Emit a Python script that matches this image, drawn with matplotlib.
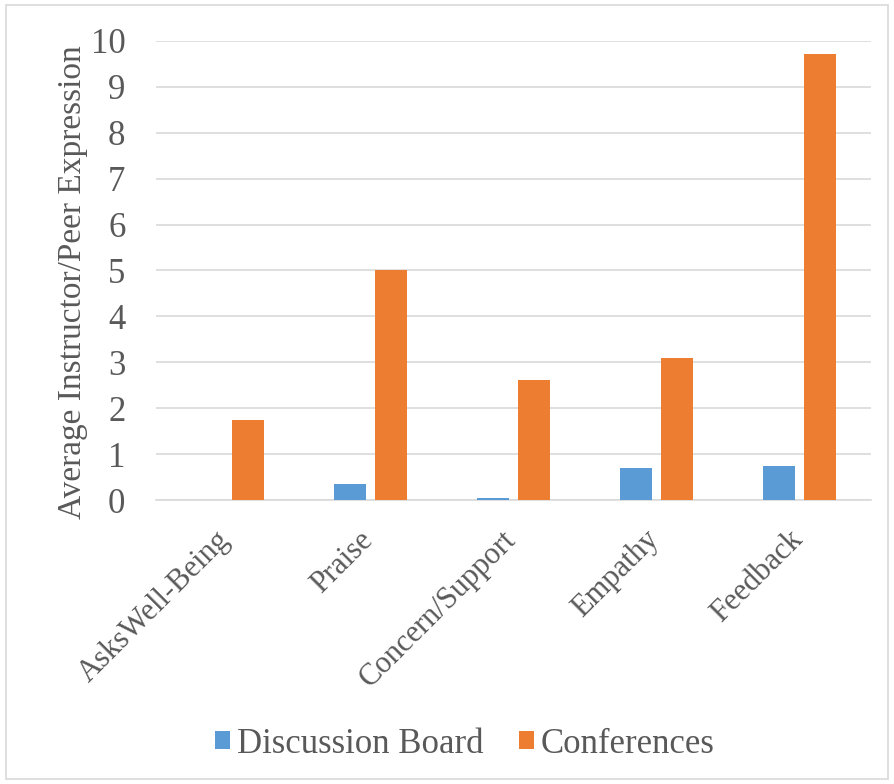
import matplotlib
matplotlib.use("Agg")
import matplotlib.pyplot as plt
import matplotlib.transforms as mtransforms
import numpy as np
from matplotlib.patches import Rectangle

categories = ["AsksWell-Being", "Praise", "Concern/Support", "Empathy", "Feedback"]
discussion_board = [0.0, 0.36, 0.04, 0.71, 0.74]
conferences = [1.75, 5.0, 2.62, 3.1, 9.72]
series_names = ["Discussion Board", "Conferences"]
yticks = list(range(0, 11))

plt.rcParams['font.family'] = ['Liberation Serif', 'DejaVu Serif']
txt = '#595959'

fig = plt.figure(figsize=(8.94, 7.84), dpi=100)
ax = fig.add_axes([0.1745, 0.362, 0.80, 0.586])

x = np.arange(len(categories))
w = 0.224
off = 0.142
ax.bar(x - off, discussion_board, w, color='#5B9BD5', label=series_names[0], zorder=3)
ax.bar(x + off, conferences, w, color='#ED7D31', label=series_names[1], zorder=3)

ax.set_xlim(-0.5, len(categories) - 0.5)
ax.set_ylim(0, 10)
ax.set_yticks(yticks)
ax.yaxis.grid(True, color='#D9D9D9', linewidth=1.2, zorder=0)
ax.set_axisbelow(True)
for s in ['top', 'right', 'left']:
    ax.spines[s].set_visible(False)
ax.spines['bottom'].set_color('#D9D9D9')
ax.spines['bottom'].set_linewidth(1.2)
ax.tick_params(axis='y', length=0, labelsize=25, colors=txt, pad=22)
ax.tick_params(axis='x', length=0, labelsize=22, colors=txt, pad=18)
ax.set_xticks(x)
ax.set_xticklabels(categories, rotation=45, ha='right', va='top', rotation_mode='anchor')
shift = mtransforms.ScaledTranslation(-12 / 100, 0 / 100, fig.dpi_scale_trans)
for lbl in ax.get_xticklabels():
    lbl.set_transform(lbl.get_transform() + shift)
ax.set_ylabel("Average Instructor/Peer Expression", fontsize=24, color=txt)
ax.yaxis.set_label_coords(-0.095, 0.475)

leg = fig.legend(loc='center', bbox_to_anchor=(0.52, 0.051), ncol=2, frameon=False,
                 fontsize=25, handlelength=0.45, handleheight=0.45, handletextpad=0.2,
                 columnspacing=1.0)
for t in leg.get_texts():
    t.set_color(txt)

fig.patches.append(Rectangle((0.007, 0.007), 0.986, 0.986, transform=fig.transFigure,
                             fill=False, edgecolor='#D9D9D9', linewidth=1.2))

fig.savefig('out.png', dpi=100)
